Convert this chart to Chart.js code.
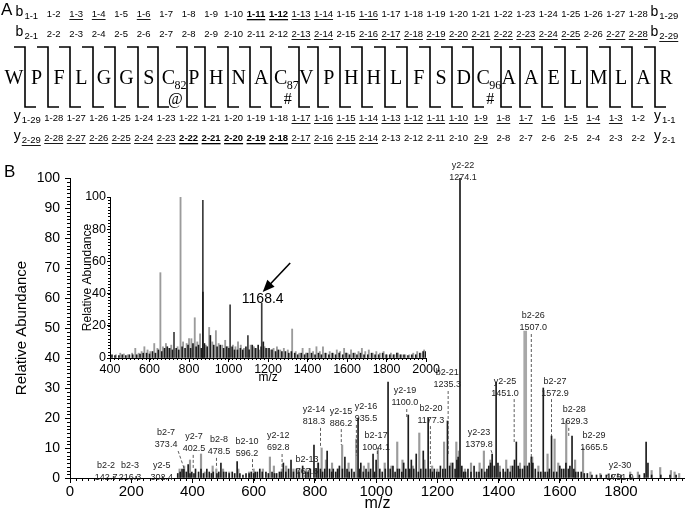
<!DOCTYPE html>
<html>
<head>
<meta charset="utf-8">
<script src="https://cdn.jsdelivr.net/npm/chart.js@4.4.0/dist/chart.umd.min.js"></script>
<style>
  html, body { margin: 0; padding: 0; background: #fff; }
  #wrap { position: relative; width: 685px; height: 513px; }
  #wrap canvas { position: absolute; }
</style>
</head>
<body>
<div id="wrap">
  <canvas id="main" width="685" height="513" style="left:0;top:0;width:685px;height:513px"></canvas>
  <canvas id="seq" width="685" height="160" style="left:0;top:0;width:685px;height:160px"></canvas>
  <canvas id="inset" width="400" height="200" style="left:40px;top:185px;width:400px;height:200px"></canvas>
</div>
<script>
// --- panel A: peptide and fragment coverage ---
const residues = ['W','P','F','L','G','G','S','C','P','H','N','A','C','V','P','H','H','L','F','S','D','C','A','A','E','L','M','L','A','R'];
const residueSub = { 7: '82', 12: '87', 21: '96' };
const residueMark = { 7: '@', 12: '#', 21: '#' };
// ion numbers that were observed (underlined) / strongest (bold)
const b1Under = [3, 4, 6, 11, 12, 13, 14, 16];
const b1Bold = [11, 12];
const b2Under = [13, 14, 16, 17, 18, 19, 20, 21, 22, 23, 24, 25, 27, 28, 29];
const b2Bold = [];
const y1Under = [3, 4, 5, 6, 7, 8, 9, 10, 11, 12, 13, 14, 15, 16, 17];
const y1Bold = [];
const y2Under = [9, 14, 15, 16, 17, 18, 19, 20, 21, 22, 23, 24, 25, 26, 27, 28, 29];
const y2Bold = [18, 19, 20, 21, 22];

// --- panel B: MS/MS spectrum, [m/z, relative abundance] ---
const mainXTicks = [0, 200, 400, 600, 800, 1000, 1200, 1400, 1600, 1800];
const insetXTicks = [400, 600, 800, 1000, 1200, 1400, 1600, 1800, 2000];
const yTicks = [0, 10, 20, 30, 40, 50, 60, 70, 80, 90, 100];

const mainBlack = [
  [142.7,0.5],[216.3,0.5],[302.4,0.5],[352,1.5],[360,2],[366,3],[372,3],[380,2],[386,4.5],[392,1.5],[398,2],[405,1.5],
  [410,3],[420,2],[428,3],[436,1.5],[447,3],[455,2],[462,1.5],[468,2],[480,1.5],[486,2],[493,5],[502,2],[510,2],
  [520,1.5],[530,2],[538,1.5],[546,5.5],[555,1.5],[565,1],[575,1.5],[585,1.5],[592,2],[600,1.5],[605,2],[612,2],
  [620,3],[628,2],[640,2],[648,1.5],[660,2],[668,1.5],[675,1.5],[684,2],[690,2],[697,5],[705,2],[714,3],[722,6],
  [730,2],[740,3],[748,2],[760,4],[770,2],[778,2],[785,3],[797,11],[804,3],[811,5],[818,3],[825,2],[832,3],[840,9],
  [848,3],[855,2],[860,3],[868,2],[874,3],[880,4],[890,3],[898,7],[905,3],[912,2],[920,3],[928,2],[941,20],[946,3],
  [950,5],[958,2],[967,3],[975,2],[982,3],[990,8],[995,2],[1000,6],[1012,3],[1020,2],[1030,3],[1039,32],[1046,3],
  [1055,4],[1062,2],[1070,3],[1076,3],[1084,2],[1090,5],[1097,3],[1105,21],[1110,3],[1115,6],[1123,3],[1131,8],
  [1138,2],[1146,3],[1154,9],[1162,3],[1170,20],[1177,3],[1184,2],[1190,3],[1198,2],[1205,2],[1210,4],[1218,3],
  [1226,3],[1233,19],[1240,4],[1250,5],[1258,3],[1264,6],[1268,7],[1280,4],[1286,2],[1292,2],[1300,3],
  [1310,2],[1320,4],[1328,2],[1336,2],[1345,3],[1355,2],[1362,3],[1368,4],[1374,5],[1379,8],[1386,4],[1392,32],
  [1398,5],[1405,2],[1415,3],[1422,2],[1430,3],[1438,2],[1446,4],[1452,6],[1458,12],[1464,4],[1470,3],[1478,3],
  [1485,4],[1494,4],[1500,5],[1507,7],[1512,5],[1520,3],[1530,2],[1538,2],[1546,30],[1552,2],[1560,2],[1566,3],
  [1573,14],[1580,2],[1590,2],[1600,4],[1606,3],[1613,3],[1620,5],[1628,3],[1633,4],[1640,14],[1646,3],[1652,2],
  [1660,2],[1670,2],[1680,1.5],[1690,1.5],[1705,1],[1720,1],[1735,1],[1752,1],[1770,1],[1800,1],[1830,1],[1860,1],
  [1876,1.5],[1882,12],[1888,5],[1900,1],[1930,1],[1960,1],[1980,1]
];
const mainDark = [[1274,100]];
const mainGray = [
  [358,3],[373,4],[392,6],[428,8],[440,2],[466,4],[478,3],[500,3],[520,2],[550,3],[585,2],[600,3],[630,3],[653,7],
  [666,4],[692,3],[706,4],[730,3],[750,3],[772,3],[810,5],[822,10],[836,6],[856,5],[876,3],[889,11],[910,5],[935,13],
  [960,4],[975,5],[1006,10],[1028,5],[1050,4],[1069,12],[1086,6],[1120,4],[1141,15],[1158,6],[1183,4],[1200,3],
  [1222,12],[1244,5],[1262,12],[1270,9],[1290,3],[1310,5],[1338,5],[1352,9],[1373,6],[1404,4],[1425,6],[1440,4],
  [1470,5],[1510,7],[1530,4],[1560,8],[1583,13],[1595,5],[1621,19],[1650,6],[1676,10],[1700,2],[1732,1.5],
  [1760,1.5],[1790,1.5],[1830,2],[1855,2],[1900,2.5],[1928,3.5],[1963,2.5],[1975,2],[1990,1.5]
];
const mainWide = [[1487,49]];

// annotated fragment ions: [ion, m/z text, peak m/z, peak height]
const peakLabels = [
  ['b2-2','142.7',142.7,0.5],['b2-3','216.3',216.3,0.5],['y2-5','302.4',302.4,0.5],['b2-7','373.4',373.4,3],
  ['y2-7','402.5',402.5,2.7],['b2-8','478.5',478.5,3.3],['b2-10','596.2',596.2,2.7],['y2-12','692.8',692.8,3.3],
  ['b2-13','767.6',767.6,1],['y2-14','818.3',818.3,10],['y2-15','886.2',886.2,11],['y2-16','935.5',935.5,7.5],
  ['b2-17','1004.1',1004.1,9],['y2-19','1100.0',1100,20],['b2-20','1177.3',1177.3,3.7],['b2-21','1235.3',1235.3,8],
  ['y2-22','1274.1',1274.1,100],['y2-23','1379.8',1379.8,8],['y2-25','1451.0',1451,12],['b2-26','1507.0',1507,4.5],
  ['b2-27','1572.9',1572.9,14],['b2-28','1629.3',1629.3,14],['b2-29','1665.5',1665.5,10],['y2-30','1751.9',1751.9,1]
];
// where each label sits: [centre m/z, rel. abundance of first line, draw leader]
const labelAnchors = [
  [118,4.3,0],[196,4.3,0],[300,4.3,0],[314,15,1],[405,13.7,1],[487,12.7,1],[578,12.3,1],[680,14,1],
  [774,6.3,1],[797,22.7,1],[885,22.3,1],[967,23.7,1],[1000,14,1],[1094,29,1],[1179,23.3,1],[1232,35,1],
  [1284,104.3,0],[1336,15.3,1],[1421,32.3,1],[1513,54,1],[1584,32.3,1],[1647,22.7,1],[1712,14,0],[1797,4.3,0]
];

// inset: full scan
const insetBlack = [
  [410,2],[425,1.5],[445,1.5],[462,2],[480,1.5],[498,2],[515,2],[535,2],[552,2.5],[568,3],[585,3],[600,2.5],[615,4],
  [630,3],[645,5],[662,4],[676,6],[690,7],[702,6],[716,5],[735,6],[748,5],[765,7],[780,6],[795,8],[808,6],
  [820,9],[836,7],[848,8],[862,6],[870,41],[878,9],[892,7],[908,14],[925,8],[942,7],[958,8],[975,6],[990,7],[1002,6],
  [1018,7],[1030,5],[1045,5],[1060,6],[1072,5],[1088,7],[1104,5],[1120,8],[1136,6],[1150,8],
  [1165,7],[1176,10],[1190,6],[1205,6],[1220,5],[1238,4],[1252,5],[1270,4],[1288,4],[1305,3],[1318,4],
  [1335,3],[1350,2],[1368,3],[1385,2],[1400,3],[1420,3],[1438,2],[1455,3],[1470,2],[1490,3],[1508,2],[1525,3],
  [1542,2],[1560,3],[1578,2],[1595,3],[1612,2],[1632,3],[1650,2],[1668,3],[1686,2],[1705,2],[1724,3],[1742,2],
  [1760,2],[1780,3],[1798,2],[1816,2],[1835,2],[1852,3],[1870,2],[1888,2],[1908,1.5],[1928,2],[1948,2],[1968,3],
  [1985,4],[1998,4]
];
const insetDark = [[724,16],[870,98],[1008,33],[1098,14],[1168,34]];
const insetGray = [
  [430,2],[452,3],[470,2.5],[490,2],[512,3],[528,6],[545,3],[560,4],[574,7],[590,5],[604,4],[624,9],[640,6],[655,53],
  [668,7],[683,9],[696,6],[710,8],[742,7],[757,100],[770,10],[788,9],[800,12],[812,12],[829,25],[842,10],[856,15],
  [885,8],[902,19],[918,10],[936,17],[950,9],[968,8],[983,11],[996,7],[1022,8],[1035,7],[1048,10],[1062,8],[1078,6],
  [1112,8],[1128,7],[1140,6],[1155,5],[1182,7],[1198,6],[1212,5],[1228,6],[1245,7],[1262,5],[1280,6],[1300,5],
  [1322,18],[1340,4],[1358,3],[1375,6],[1392,3],[1410,6],[1428,4],[1445,7],[1462,4],[1478,7],[1495,3],[1512,4],
  [1530,3],[1548,5],[1565,4],[1585,6],[1602,3],[1620,5],[1640,3],[1658,4],[1675,6],[1692,4],[1710,5],[1730,3],
  [1748,4],[1766,3],[1785,4],[1802,2],[1822,3],[1840,2],[1858,3],[1876,2],[1895,2],[1915,2],[1935,3],[1955,4],
  [1972,3],[1990,5]
];
const precursor = { text: '1168.4', tail: [1312, 59], tip: [1173, 41], label: [1173, 36.5] };

const SANS = '"Liberation Sans", Arial, Helvetica, sans-serif';
const SERIF = '"Liberation Serif", "Times New Roman", serif';
const toXY = arr => arr.map(p => ({ x: p[0], y: p[1] }));
const fixTicks = list => s => { s.ticks = list.map(v => ({ value: v })); };

// minor tick marks drawn along both axes
function minorTicks(chart, xStep, yStep, len) {
  const ctx = chart.ctx, xs = chart.scales.x, ys = chart.scales.y;
  ctx.save();
  ctx.strokeStyle = '#000';
  ctx.lineWidth = 1;
  ctx.beginPath();
  for (let v = Math.ceil(xs.min / xStep) * xStep; v <= xs.max; v += xStep) {
    const x = Math.round(xs.getPixelForValue(v)) + 0.5;
    ctx.moveTo(x, ys.bottom); ctx.lineTo(x, ys.bottom + len);
  }
  for (let v = 0; v <= ys.max + 0.01; v += yStep) {
    const y = Math.round(ys.getPixelForValue(v)) + 0.5;
    ctx.moveTo(xs.left, y); ctx.lineTo(xs.left - len, y);
  }
  ctx.stroke();
  ctx.restore();
}

// === PANEL A ===
function drawLabel(ctx, cx, y, num, prefix, bold, under) {
  ctx.font = (bold ? 'bold ' : '') + '9.5px ' + SANS;
  const w = ctx.measureText(num).width;
  const left = cx - w / 2;
  ctx.fillText(num, left, y);
  if (under) ctx.fillRect(left, y + 5, w, bold ? 1.3 : 0.9);
  if (prefix) {
    ctx.font = '14px ' + SANS;
    const pw = ctx.measureText(prefix).width;
    ctx.fillText(prefix, left - pw - 1, y - 4);
  }
}

const seqPlugin = {
  id: 'seqPlugin',
  afterDraw(chart) {
    const ctx = chart.ctx, xs = chart.scales.x;
    const n = residues.length;
    const res = i => xs.getPixelForValue(i);
    // cleavage lines sit a little to the right of a subscripted residue
    const cut = k => xs.getPixelForValue(k - 0.5) + (residueSub[k - 1] ? 4 : 0) + (residueSub[k] ? -2 : 0);
    const top = 47, bot = 107, letterY = 79, rows = [14, 34, 118, 138];
    ctx.save();
    ctx.fillStyle = '#000';
    ctx.textBaseline = 'middle';
    ctx.textAlign = 'left';
    ctx.font = '17px ' + SANS;
    ctx.fillText('A', 1, 10);

    // cleavage brackets
    ctx.strokeStyle = '#000';
    ctx.lineWidth = 1.6;
    for (let k = 1; k < n; k++) {
      const x = Math.round(cut(k));
      ctx.beginPath();
      ctx.moveTo(x - 11, top); ctx.lineTo(x, top); ctx.lineTo(x, bot); ctx.lineTo(x + 11, bot);
      ctx.stroke();
    }

    // residues
    residues.forEach((r, i) => {
      const x = res(i);
      ctx.textAlign = 'center';
      ctx.font = '20px ' + SERIF;
      if (residueSub[i]) {
        ctx.fillText(r, x - 3, letterY);
        ctx.font = '12px ' + SERIF;
        ctx.textAlign = 'left';
        ctx.fillText(residueSub[i], x + 3, letterY + 7);
        ctx.textAlign = 'center';
        ctx.font = '16px ' + SERIF;
        ctx.fillText(residueMark[i], x + 4, letterY + 21);
      } else {
        ctx.fillText(r, x, letterY);
      }
    });

    // fragment ion labels
    ctx.textAlign = 'left';
    const series = [
      ['b', 1, b1Under, b1Bold, rows[0], false],
      ['b', 2, b2Under, b2Bold, rows[1], false],
      ['y', 1, y1Under, y1Bold, rows[2], true],
      ['y', 2, y2Under, y2Bold, rows[3], true]
    ];
    series.forEach(([ion, chain, under, bold, y, rev]) => {
      for (let k = 1; k < n; k++) {
        const num = rev ? n - k : k;
        const txt = chain + '-' + num;
        const isB = bold.includes(num), isU = under.includes(num);
        const edge = k === 1 || k === n - 1;
        const cx = xs.getPixelForValue(k - 0.5) + (k === n - 1 ? 14 : 6);
        drawLabel(ctx, cx, edge ? y + 2 : y, txt, edge ? ion : null, isB, isU);
      }
    });
    ctx.restore();
  }
};

new Chart(document.getElementById('seq'), {
  type: 'scatter',
  data: { datasets: [] },
  options: {
    responsive: false, animation: false, devicePixelRatio: 1,
    layout: { padding: { left: 14, right: 19, top: 0, bottom: 0 } },
    plugins: { legend: { display: false }, tooltip: { enabled: false } },
    scales: {
      x: { type: 'linear', min: 0, max: residues.length - 1, display: false },
      y: { min: 0, max: 1, display: false }
    }
  },
  plugins: [seqPlugin]
});

// === PANEL B: main spectrum ===
const mainPlugin = {
  id: 'mainPlugin',
  afterDraw(chart) {
    const ctx = chart.ctx, xs = chart.scales.x, ys = chart.scales.y;
    minorTicks(chart, 20, 1.25, 3);
    ctx.save();
    ctx.fillStyle = '#000';
    ctx.font = '17px ' + SANS;
    ctx.textBaseline = 'middle';
    ctx.fillText('B', 4, 172);

    ctx.font = '9px ' + SANS;
    ctx.textAlign = 'center';
    ctx.fillStyle = '#222';
    ctx.strokeStyle = '#333';
    ctx.lineWidth = 0.8;
    peakLabels.forEach((p, i) => {
      const [cm, ch, lead] = labelAnchors[i];
      const cx = xs.getPixelForValue(cm), ty = ys.getPixelForValue(ch);
      ctx.fillText(p[0], cx, ty);
      ctx.fillText(p[1], cx, ty + 12);
      if (lead) {
        const px = xs.getPixelForValue(p[2]), py = ys.getPixelForValue(p[3]);
        const sx = Math.max(cx - 12, Math.min(cx + 12, px));
        ctx.setLineDash([3, 2]);
        ctx.beginPath();
        ctx.moveTo(sx, ty + 18);
        ctx.lineTo(px, py);
        ctx.stroke();
      }
    });
    ctx.restore();
  }
};

new Chart(document.getElementById('main'), {
  type: 'bar',
  data: {
    datasets: [
      { data: toXY(mainBlack), backgroundColor: '#1c1c1c', barThickness: 1, grouped: false, borderWidth: 0 },
      { data: toXY(mainDark), backgroundColor: '#3c3c3c', barThickness: 1.3, grouped: false, borderWidth: 0 },
      { data: toXY(mainGray), backgroundColor: '#9b9b9b', barThickness: 1.5, grouped: false, borderWidth: 0 },
      { data: toXY(mainWide), backgroundColor: '#a8a8a8', barThickness: 3, grouped: false, borderWidth: 0 }
    ]
  },
  options: {
    responsive: false, animation: false, devicePixelRatio: 1,
    layout: { padding: { top: 178, right: 0, left: 0, bottom: 0 } },
    plugins: { legend: { display: false }, tooltip: { enabled: false } },
    scales: {
      x: {
        type: 'linear', min: 0, max: 2009, offset: false,
        afterBuildTicks: fixTicks(mainXTicks),
        grid: { drawOnChartArea: false, offset: false, tickLength: 5, color: '#000' },
        border: { color: '#000', width: 1 },
        ticks: { autoSkip: false, maxRotation: 0, color: '#000', padding: 0, font: { family: SANS, size: 15 }, callback: v => String(v) },
        title: { display: true, text: 'm/z', color: '#000', font: { family: SANS, size: 16 }, padding: { top: 0, bottom: 0 } },
        afterFit: s => { s.height = 35; }
      },
      y: {
        min: 0, max: 100,
        afterBuildTicks: fixTicks(yTicks),
        grid: { drawOnChartArea: false, tickLength: 5, color: '#000' },
        border: { color: '#000', width: 1 },
        ticks: { color: '#000', padding: 5, font: { family: SANS, size: 14 }, callback: v => String(v) },
        title: { display: true, text: 'Relative Abundance', color: '#000', font: { family: SANS, size: 15 }, padding: { top: 13, bottom: 0 } },
        afterFit: s => { s.width = 70; }
      }
    }
  },
  plugins: [mainPlugin]
});

// === INSET: full scan ===
const insetPlugin = {
  id: 'insetPlugin',
  afterDraw(chart) {
    const ctx = chart.ctx, xs = chart.scales.x, ys = chart.scales.y;
    minorTicks(chart, 20, 2, 2);
    const [tx, ty] = [xs.getPixelForValue(precursor.tip[0]), ys.getPixelForValue(precursor.tip[1])];
    const [sx, sy] = [xs.getPixelForValue(precursor.tail[0]), ys.getPixelForValue(precursor.tail[1])];
    const ang = Math.atan2(ty - sy, tx - sx);
    ctx.save();
    ctx.strokeStyle = '#000'; ctx.fillStyle = '#000'; ctx.lineWidth = 1.6;
    ctx.beginPath(); ctx.moveTo(sx, sy); ctx.lineTo(tx - 8 * Math.cos(ang), ty - 8 * Math.sin(ang)); ctx.stroke();
    ctx.beginPath();
    ctx.moveTo(tx, ty);
    ctx.lineTo(tx - 12 * Math.cos(ang) + 5 * Math.sin(ang), ty - 12 * Math.sin(ang) - 5 * Math.cos(ang));
    ctx.lineTo(tx - 12 * Math.cos(ang) - 5 * Math.sin(ang), ty - 12 * Math.sin(ang) + 5 * Math.cos(ang));
    ctx.closePath(); ctx.fill();
    ctx.font = '14px ' + SANS;
    ctx.textAlign = 'center'; ctx.textBaseline = 'middle';
    ctx.fillText(precursor.text, xs.getPixelForValue(precursor.label[0]), ys.getPixelForValue(precursor.label[1]));
    ctx.restore();
  }
};

new Chart(document.getElementById('inset'), {
  type: 'bar',
  data: {
    datasets: [
      { data: toXY(insetBlack), backgroundColor: '#1c1c1c', barThickness: 1, grouped: false, borderWidth: 0 },
      { data: toXY(insetDark), backgroundColor: '#3c3c3c', barThickness: 1, grouped: false, borderWidth: 0 },
      { data: toXY(insetGray), backgroundColor: '#9b9b9b', barThickness: 1.2, grouped: false, borderWidth: 0 }
    ]
  },
  options: {
    responsive: false, animation: false, devicePixelRatio: 1,
    layout: { padding: { top: 12, right: 9, left: 0, bottom: 0 } },
    plugins: { legend: { display: false }, tooltip: { enabled: false } },
    scales: {
      x: {
        type: 'linear', min: 400, max: 2000, offset: false,
        afterBuildTicks: fixTicks(insetXTicks),
        grid: { drawOnChartArea: false, offset: false, tickLength: 4, color: '#000' },
        border: { color: '#000', width: 1 },
        ticks: { autoSkip: false, maxRotation: 0, color: '#000', padding: 0, font: { family: SANS, size: 12.5 }, callback: v => String(v) },
        title: { display: true, text: 'm/z', color: '#000', font: { family: SANS, size: 12 }, padding: { top: 0, bottom: 0 } },
        afterFit: s => { s.height = 27; }
      },
      y: {
        min: 0, max: 100,
        afterBuildTicks: fixTicks(yTicks),
        grid: { drawOnChartArea: false, tickLength: 3, color: '#000' },
        border: { color: '#000', width: 1 },
        ticks: { color: '#000', padding: 1, font: { family: SANS, size: 12.5 }, callback: v => String(v) },
        title: { display: true, text: 'Relative Abundance', color: '#000', font: { family: SANS, size: 12 }, padding: { top: 40, bottom: 0 } },
        afterFit: s => { s.width = 70; }
      }
    }
  },
  plugins: [insetPlugin]
});
</script>
</body>
</html>
